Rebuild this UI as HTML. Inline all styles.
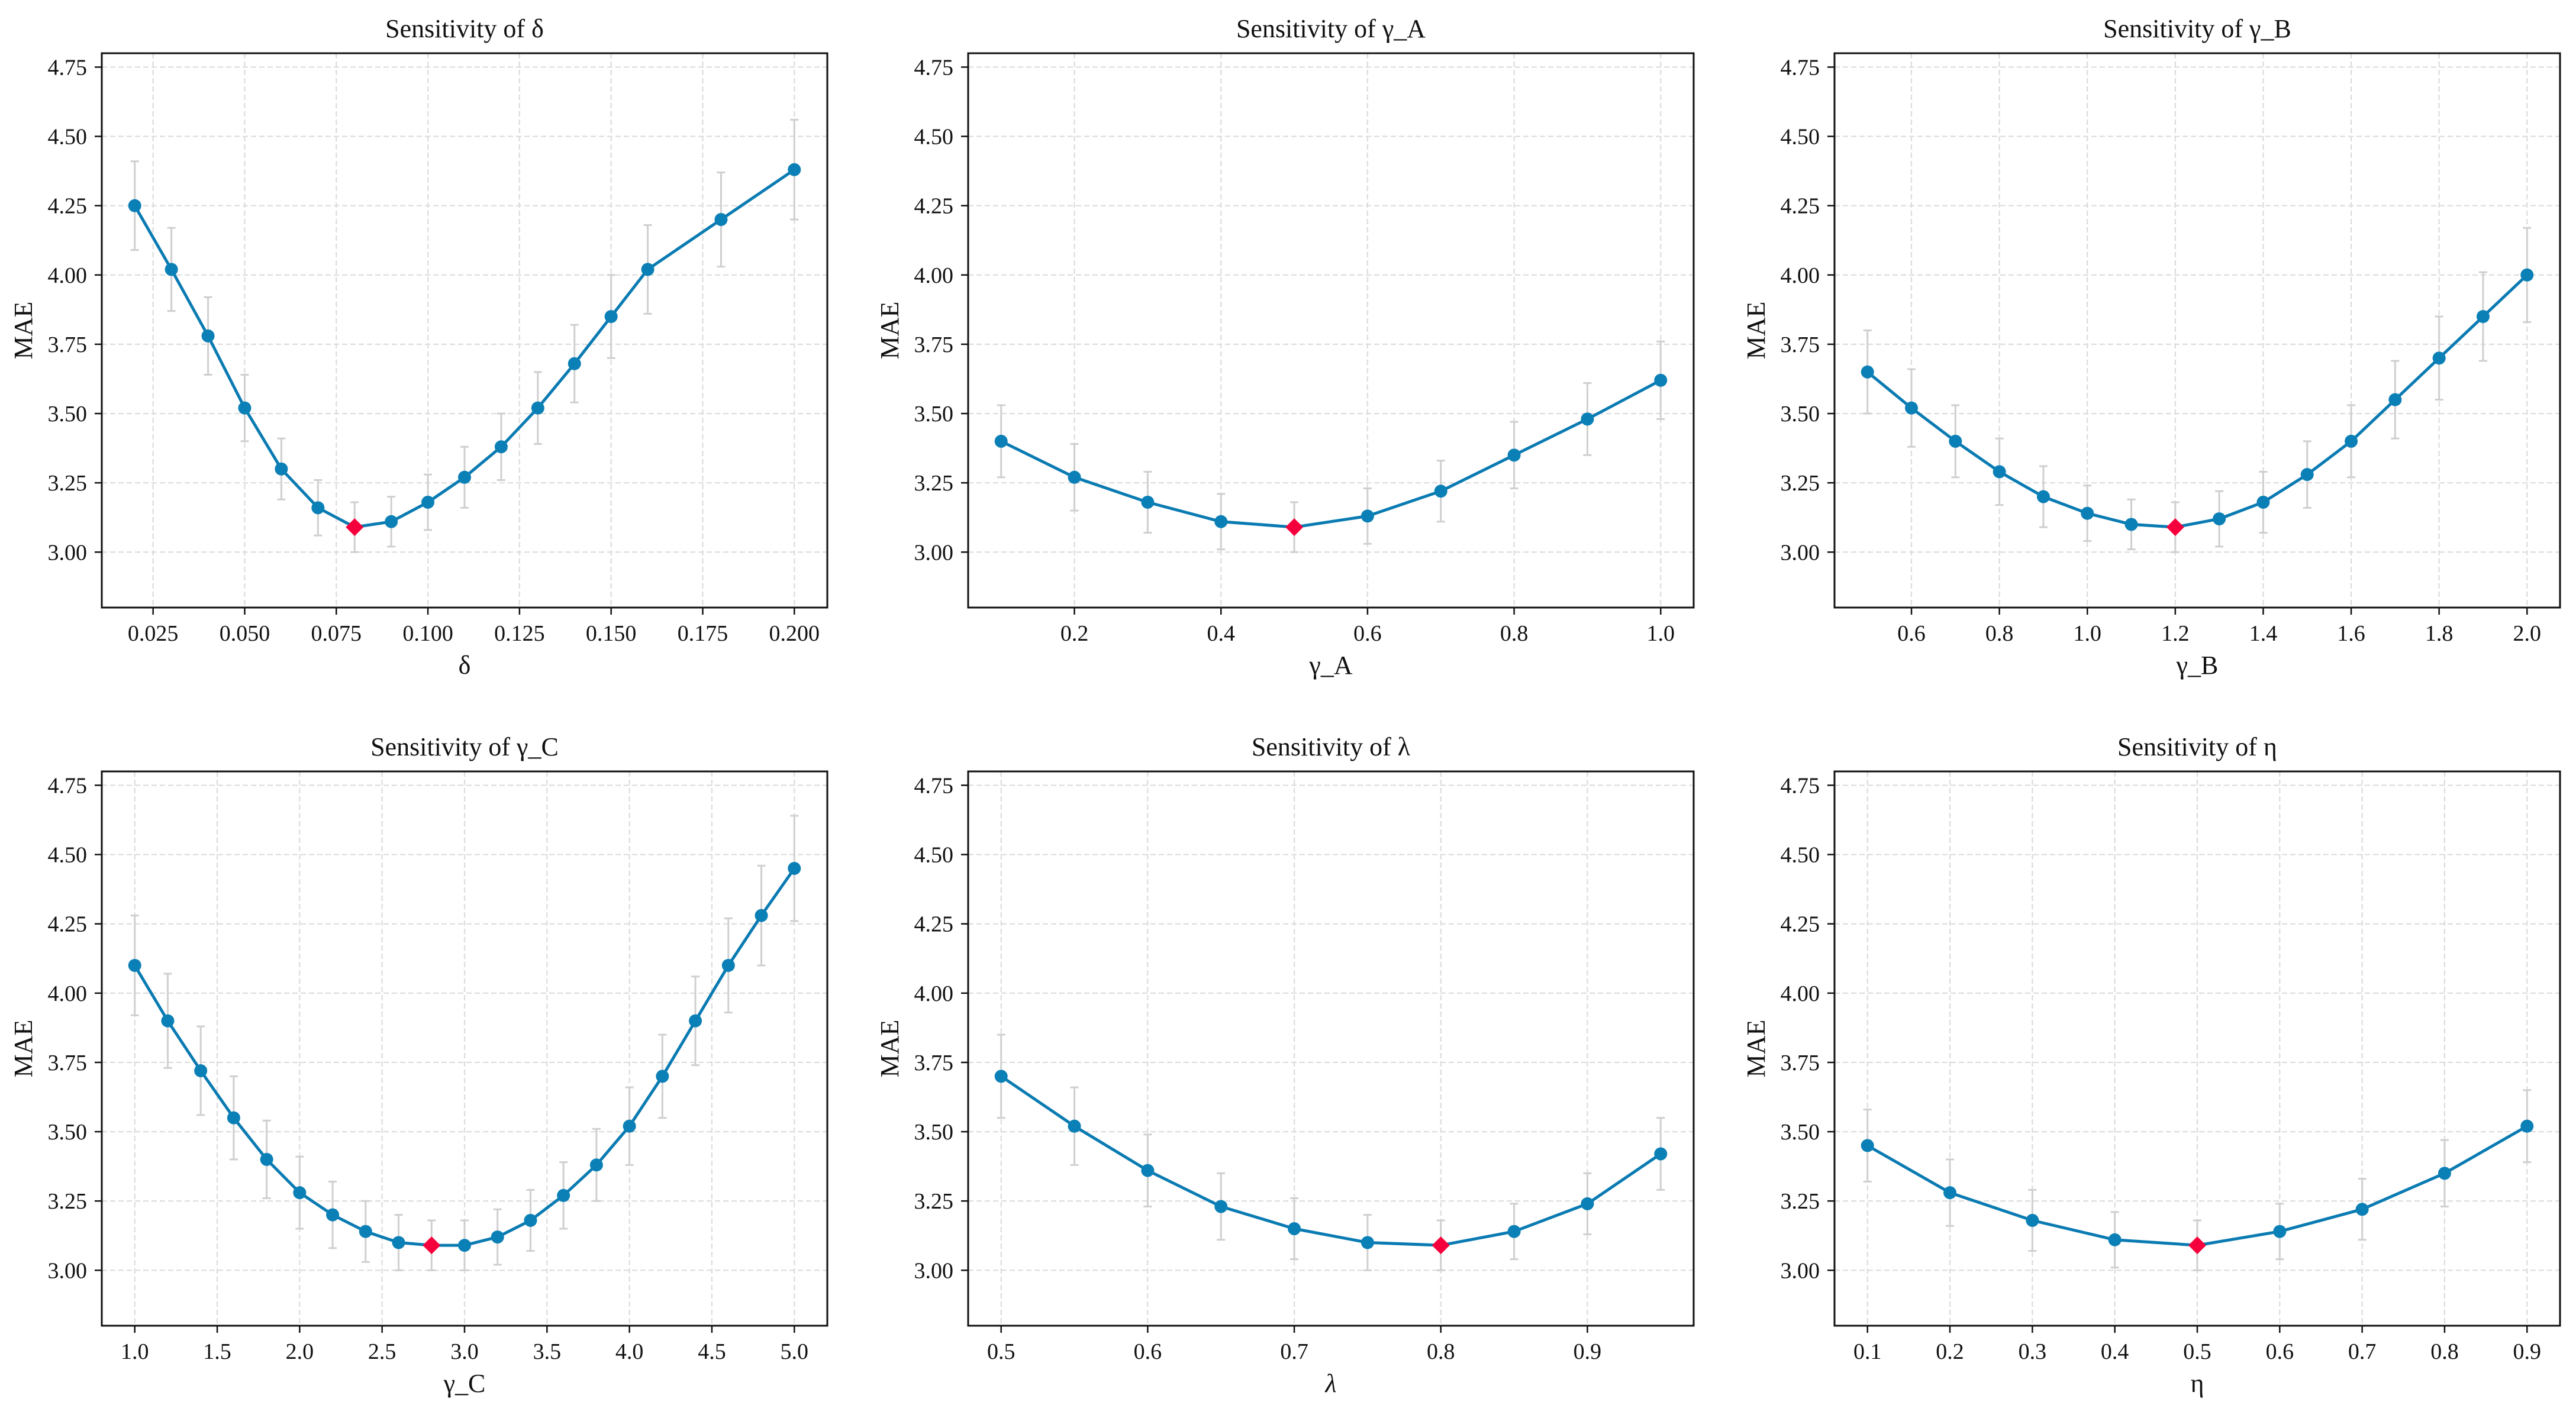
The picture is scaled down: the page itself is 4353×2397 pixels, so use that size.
<!DOCTYPE html>
<html><head><meta charset="utf-8"><style>
html,body{margin:0;padding:0;background:#fff;}
svg{display:block;}
text{font-family:"Liberation Serif",serif;fill:#111;}
</style></head><body>
<svg id="fig" width="4353" height="2397" viewBox="0 0 4353 2397" xmlns="http://www.w3.org/2000/svg"></svg>
<script>
// ---- data ----
const deltaX = [0.02,0.03,0.04,0.05,0.06,0.07,0.08,0.09,0.10,0.11,0.12,0.13,0.14,0.15,0.16,0.18,0.20];
const deltaY = [4.25,4.02,3.78,3.52,3.30,3.16,3.09,3.11,3.18,3.27,3.38,3.52,3.68,3.85,4.02,4.20,4.38];
const deltaErr = [0.16,0.15,0.14,0.12,0.11,0.10,0.09,0.09,0.10,0.11,0.12,0.13,0.14,0.15,0.16,0.17,0.18];
const deltaTicks = ["0.025","0.050","0.075","0.100","0.125","0.150","0.175","0.200"];

const gammaAX = [0.1,0.2,0.3,0.4,0.5,0.6,0.7,0.8,0.9,1.0];
const gammaAY = [3.40,3.27,3.18,3.11,3.09,3.13,3.22,3.35,3.48,3.62];
const gammaAErr = [0.13,0.12,0.11,0.10,0.09,0.10,0.11,0.12,0.13,0.14];
const gammaATicks = ["0.2","0.4","0.6","0.8","1.0"];

const gammaBX = [0.5,0.6,0.7,0.8,0.9,1.0,1.1,1.2,1.3,1.4,1.5,1.6,1.7,1.8,1.9,2.0];
const gammaBY = [3.65,3.52,3.40,3.29,3.20,3.14,3.10,3.09,3.12,3.18,3.28,3.40,3.55,3.70,3.85,4.00];
const gammaBErr = [0.15,0.14,0.13,0.12,0.11,0.10,0.09,0.09,0.10,0.11,0.12,0.13,0.14,0.15,0.16,0.17];
const gammaBTicks = ["0.6","0.8","1.0","1.2","1.4","1.6","1.8","2.0"];

const gammaCX = [1.0,1.2,1.4,1.6,1.8,2.0,2.2,2.4,2.6,2.8,3.0,3.2,3.4,3.6,3.8,4.0,4.2,4.4,4.6,4.8,5.0];
const gammaCY = [4.10,3.90,3.72,3.55,3.40,3.28,3.20,3.14,3.10,3.09,3.09,3.12,3.18,3.27,3.38,3.52,3.70,3.90,4.10,4.28,4.45];
const gammaCErr = [0.18,0.17,0.16,0.15,0.14,0.13,0.12,0.11,0.10,0.09,0.09,0.10,0.11,0.12,0.13,0.14,0.15,0.16,0.17,0.18,0.19];
const gammaCTicks = ["1.0","1.5","2.0","2.5","3.0","3.5","4.0","4.5","5.0"];

const lambdaX = [0.5,0.55,0.6,0.65,0.7,0.75,0.8,0.85,0.9,0.95];
const lambdaY = [3.70,3.52,3.36,3.23,3.15,3.10,3.09,3.14,3.24,3.42];
const lambdaErr = [0.15,0.14,0.13,0.12,0.11,0.10,0.09,0.10,0.11,0.13];
const lambdaTicks = ["0.5","0.6","0.7","0.8","0.9"];

const etaX = [0.1,0.2,0.3,0.4,0.5,0.6,0.7,0.8,0.9];
const etaY = [3.45,3.28,3.18,3.11,3.09,3.14,3.22,3.35,3.52];
const etaErr = [0.13,0.12,0.11,0.10,0.09,0.10,0.11,0.12,0.13];
const etaTicks = ["0.1","0.2","0.3","0.4","0.5","0.6","0.7","0.8","0.9"];

const yTicks = ["3.00","3.25","3.50","3.75","4.00","4.25","4.50","4.75"];
const bestIndex = [6,4,7,9,6,4];

const NS = "http://www.w3.org/2000/svg";
const fig = document.getElementById('fig');
function mk(tag, attrs, parent){
  const e = document.createElementNS(NS, tag);
  for (const k in attrs) e.setAttribute(k, attrs[k]);
  parent.appendChild(e);
  return e;
}

const panels = [
  {key:'delta', title:'Sensitivity of δ', xl:'δ', x:deltaX, y:deltaY, err:deltaErr, ticks:deltaTicks, italic:false},
  {key:'gamma-a', title:'Sensitivity of γ_A', xl:'γ_A', x:gammaAX, y:gammaAY, err:gammaAErr, ticks:gammaATicks, italic:false},
  {key:'gamma-b', title:'Sensitivity of γ_B', xl:'γ_B', x:gammaBX, y:gammaBY, err:gammaBErr, ticks:gammaBTicks, italic:false},
  {key:'gamma-c', title:'Sensitivity of γ_C', xl:'γ_C', x:gammaCX, y:gammaCY, err:gammaCErr, ticks:gammaCTicks, italic:false},
  {key:'lambda', title:'Sensitivity of λ', xl:'λ', x:lambdaX, y:lambdaY, err:lambdaErr, ticks:lambdaTicks, italic:true},
  {key:'eta', title:'Sensitivity of η', xl:'η', x:etaX, y:etaY, err:etaErr, ticks:etaTicks, italic:false}
];

const W = 1226, H = 937;
const lefts = [172, 1636, 3100];
const tops = [90, 1304];
const YMIN = 2.8, YMAX = 4.8;

panels.forEach((p, pi) => {
  const L = lefts[pi % 3], T = tops[Math.floor(pi / 3)];
  const g = mk('g', {}, fig);
  
  
  const xmin0 = Math.min(...p.x), xmax0 = Math.max(...p.x);
  const m = (xmax0 - xmin0) * 0.05;
  const xmin = xmin0 - m, xmax = xmax0 + m;
  const sx = v => L + (v - xmin) / (xmax - xmin) * W;
  const sy = v => T + (YMAX - v) / (YMAX - YMIN) * H;

  // grid
  const grid = mk('g', {stroke:'#dcdcdc', 'stroke-width':2.2, 'stroke-dasharray':'9 5', fill:'none'}, g);
  
  
  p.ticks.forEach(t => { const x = sx(parseFloat(t)); mk('line', {x1:x, x2:x, y1:T, y2:T+H}, grid); });
  yTicks.forEach(t => { const y = sy(parseFloat(t)); mk('line', {x1:L, x2:L+W, y1:y, y2:y}, grid); });

  // error bars
  const eb = mk('g', {stroke:'#cfcfcf', 'stroke-width':3, fill:'none'}, g);
  
  
  p.x.forEach((xv, i) => {
    const x = sx(xv), y1 = sy(p.y[i] - p.err[i]), y2 = sy(p.y[i] + p.err[i]);
    mk('line', {x1:x, x2:x, y1:y1, y2:y2}, eb);
    mk('line', {x1:x-7, x2:x+7, y1:y1, y2:y1}, eb);
    mk('line', {x1:x-7, x2:x+7, y1:y2, y2:y2}, eb);
  });

  // line
  const pts = p.x.map((xv, i) => sx(xv).toFixed(1) + ',' + sy(p.y[i]).toFixed(1)).join(' ');
  const pl = mk('polyline', {points:pts, fill:'none', stroke:'#0a7bb2', 'stroke-width':5, 'stroke-linejoin':'round'}, g);
  
  

  // markers
  p.x.forEach((xv, i) => {
    const x = sx(xv), y = sy(p.y[i]);
    if (i === bestIndex[pi]) {
      const d = 15;
      const dm = mk('polygon', {points:`${x},${y-d} ${x+d},${y} ${x},${y+d} ${x-d},${y}`, fill:'#f5003c'}, g);
      
      
    } else {
      const c = mk('circle', {cx:x, cy:y, r:11, fill:'#0b80b6'}, g);
      
      
    }
  });

  // spines
  const fr = mk('rect', {x:L, y:T, width:W, height:H, fill:'none', stroke:'#111', 'stroke-width':3}, g);
  
  

  // x ticks
  const xt = mk('g', {}, g);
  
  
  p.ticks.forEach(t => {
    const x = sx(parseFloat(t));
    mk('line', {x1:x, x2:x, y1:T+H, y2:T+H+12, stroke:'#111', 'stroke-width':2.5}, xt);
    const tx = mk('text', {x:x, y:T+H+56, 'text-anchor':'middle', 'font-size':38}, xt);
    tx.textContent = t;
  });
  // y ticks
  const yt = mk('g', {}, g);
  
  
  yTicks.forEach(t => {
    const y = sy(parseFloat(t));
    mk('line', {x1:L-12, x2:L, y1:y, y2:y, stroke:'#111', 'stroke-width':2.5}, yt);
    const tx = mk('text', {x:L-25, y:y+13, 'text-anchor':'end', 'font-size':38}, yt);
    tx.textContent = t;
  });

  // title
  const ti = mk('text', {x:L+W/2, y:T-27, 'text-anchor':'middle', 'font-size':44}, g);
  ti.textContent = p.title;
  
  
  // x label
  const xl = mk('text', {x:L+W/2, y:T+H+112, 'text-anchor':'middle', 'font-size':44}, g);
  if (p.italic) xl.setAttribute('font-style', 'italic');
  xl.textContent = p.xl;
  
  
  // y label
  const yx = L - 118, yy = T + H/2;
  const yl = mk('text', {x:yx, y:yy, 'text-anchor':'middle', 'font-size':44, transform:`rotate(-90 ${yx} ${yy})`}, g);
  yl.textContent = 'MAE';
  
  
});
</script>
</body></html>
